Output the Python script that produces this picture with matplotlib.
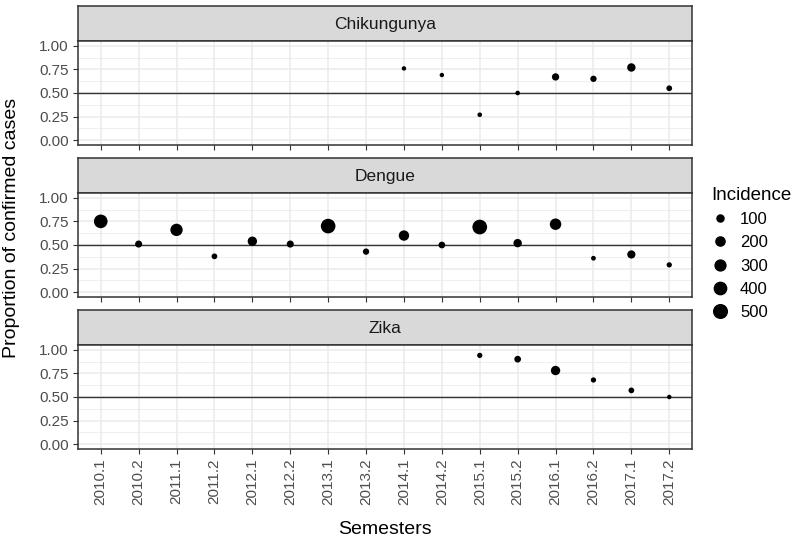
import numpy as np
import matplotlib.pyplot as plt
from matplotlib.lines import Line2D
from matplotlib.ticker import MultipleLocator

plt.rcParams['font.family'] = ['Liberation Sans', 'DejaVu Sans']

semesters = ["2010.1", "2010.2", "2011.1", "2011.2", "2012.1", "2012.2",
             "2013.1", "2013.2", "2014.1", "2014.2", "2015.1", "2015.2",
             "2016.1", "2016.2", "2017.1", "2017.2"]

chik_sem = ["2014.1", "2014.2", "2015.1", "2015.2", "2016.1", "2016.2", "2017.1", "2017.2"]
chik_prop = [0.76, 0.69, 0.27, 0.50, 0.67, 0.65, 0.77, 0.55]
chik_inc = [10, 10, 15, 15, 110, 70, 160, 50]

dengue_sem = semesters
dengue_prop = [0.75, 0.51, 0.66, 0.38, 0.54, 0.51, 0.70, 0.43,
               0.60, 0.50, 0.69, 0.52, 0.72, 0.36, 0.40, 0.29]
dengue_inc = [500, 100, 400, 50, 210, 100, 580, 70,
              270, 85, 590, 160, 340, 20, 150, 35]

zika_sem = ["2015.1", "2015.2", "2016.1", "2016.2", "2017.1", "2017.2"]
zika_prop = [0.94, 0.90, 0.78, 0.68, 0.57, 0.50]
zika_inc = [35, 85, 210, 35, 50, 12]

legend_breaks = [100, 200, 300, 400, 500]

facets = [("Chikungunya", chik_sem, chik_prop, chik_inc),
          ("Dengue", dengue_sem, dengue_prop, dengue_inc),
          ("Zika", zika_sem, zika_prop, zika_inc)]

W, H = 800, 544
DPI = 100


def size_pt2(v):
    d_px = np.sqrt(16 + 0.34 * np.asarray(v, dtype=float))
    return (d_px * 72.0 / DPI) ** 2


def px_box(x0, y0, x1, y1):
    # pixel box (top-left origin) -> figure fraction
    return [x0 / W, 1 - y1 / H, (x1 - x0) / W, (y1 - y0) / H]


fig = plt.figure(figsize=(W / DPI, H / DPI), dpi=DPI)

GRID = "#EBEBEB"
BORDER = "#333333"
TICKTXT = "#4D4D4D"
left, right = 78, 692
top0, strip_h, panel_h, gap = 6, 35, 104, 13
pos = {s: i for i, s in enumerate(semesters)}

for k, (name, sems, prop, inc) in enumerate(facets):
    ys = top0 + k * (strip_h + panel_h + gap)
    # strip
    sax = fig.add_axes(px_box(left, ys, right, ys + strip_h))
    sax.set_facecolor("#D9D9D9")
    sax.set_xticks([])
    sax.set_yticks([])
    for sp in sax.spines.values():
        sp.set_color(BORDER)
        sp.set_linewidth(1.1)
    sax.text(0.5, 0.46, name, ha="center", va="center", fontsize=12.5,
             color="#1A1A1A", transform=sax.transAxes)

    ax = fig.add_axes(px_box(left, ys + strip_h, right, ys + strip_h + panel_h))
    ax.set_xlim(-0.6, len(semesters) - 0.4)
    ax.set_ylim(-0.05, 1.05)
    ax.set_yticks([0, 0.25, 0.5, 0.75, 1.0])
    ax.set_yticklabels(["0.00", "0.25", "0.50", "0.75", "1.00"])
    ax.yaxis.set_minor_locator(MultipleLocator(0.125))
    ax.set_xticks(range(len(semesters)))
    if k == 2:
        ax.set_xticklabels(semesters, rotation=90)
    else:
        ax.set_xticklabels([])
        ax.tick_params(axis="x", length=0)
    ax.set_axisbelow(True)
    ax.grid(True, which="major", color=GRID, linewidth=1.1)
    ax.grid(True, which="minor", axis="y", color=GRID, linewidth=0.55)
    ax.tick_params(axis="both", which="major", labelsize=11, labelcolor=TICKTXT,
                   color=BORDER, width=0.8, length=3.5, pad=3)
    ax.tick_params(axis="y", which="minor", length=0)
    for sp in ax.spines.values():
        sp.set_color(BORDER)
        sp.set_linewidth(1.1)
    ax.axhline(0.5, color="#333333", linewidth=1.0, zorder=2)
    xs = [pos[s] for s in sems]
    ax.scatter(xs, prop, s=size_pt2(inc), color="black", linewidths=0, zorder=3)

fig.text(12 / W, 1 - 228 / H, "Proportion of confirmed cases", rotation=90,
         ha="center", va="center", fontsize=14, color="black")
fig.text((left + right) / 2 / W, 1 - 530 / H, "Semesters",
         ha="center", va="center", fontsize=14, color="black")

handles = [Line2D([], [], linestyle="none", marker="o", color="black",
                  markersize=np.sqrt(size_pt2(b))) for b in legend_breaks]
leg = fig.legend(handles, [str(b) for b in legend_breaks], title="Incidence",
                 loc="upper left", bbox_to_anchor=(705 / W, 1 - 180 / H),
                 frameon=False, fontsize=12, title_fontsize=13.5,
                 labelspacing=0.5, handletextpad=0.7, handlelength=1.0,
                 borderaxespad=0)
leg._legend_box.align = "left"

fig.savefig("out.png", dpi=DPI)
